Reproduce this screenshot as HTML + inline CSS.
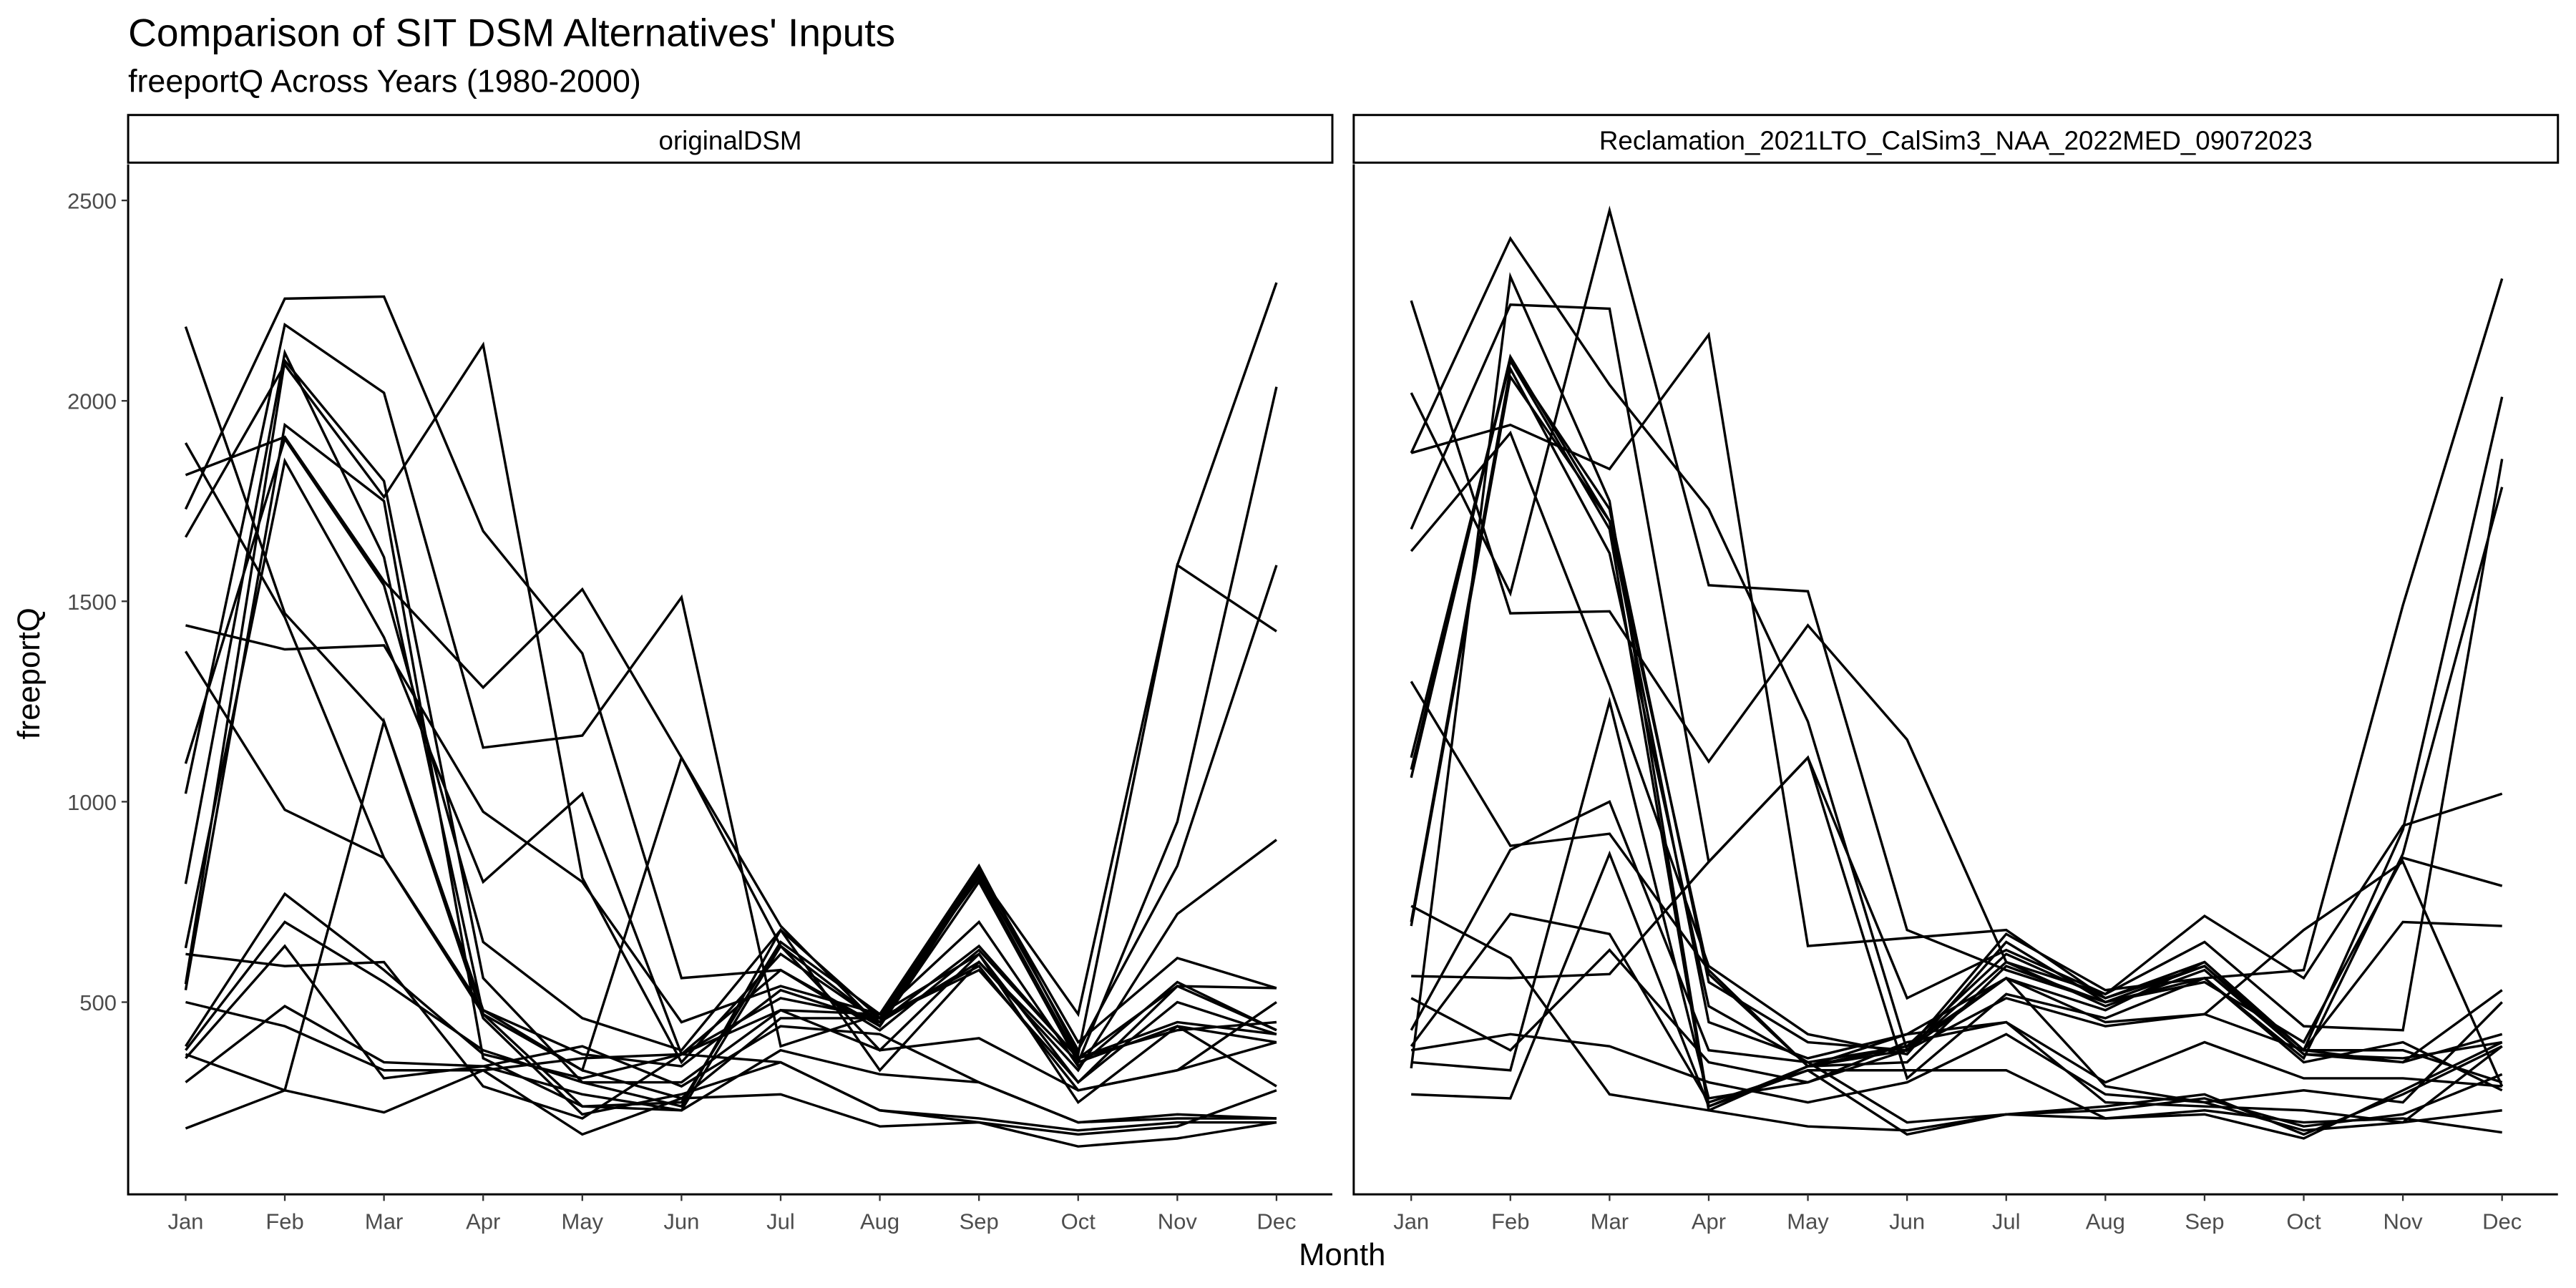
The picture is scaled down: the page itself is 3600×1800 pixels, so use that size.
<!DOCTYPE html>
<html><head><meta charset="utf-8"><style>
html,body{margin:0;padding:0;background:#fff;}
svg{display:block;font-family:"Liberation Sans",Arial,sans-serif;}
</style></head><body>
<svg id="chart" width="3600" height="1800" viewBox="0 0 1568 784" xmlns="http://www.w3.org/2000/svg">
<rect width="1568" height="784" fill="#fff"/>
<text x="78" y="28" font-size="24" fill="#000">Comparison of SIT DSM Alternatives' Inputs</text>
<text x="78" y="56" font-size="19.5" fill="#000">freeportQ Across Years (1980-2000)</text>
<text transform="translate(24,410) rotate(-90)" text-anchor="middle" font-size="19">freeportQ</text>
<text x="817" y="770" text-anchor="middle" font-size="19">Month</text>
<g id="plots"></g>
</svg>
<script>
const months=["Jan","Feb","Mar","Apr","May","Jun","Jul","Aug","Sep","Oct","Nov","Dec"];
const yTicks=[500,1000,1500,2000,2500];
const panelNames=["originalDSM","Reclamation_2021LTO_CalSim3_NAA_2022MED_09072023"];
const seriesOriginal=[
[2185,1470,1200,480,330,260,460,460,580,300,540,430],
[1895,1460,860,470,240,250,650,470,840,370,1590,2295],
[1815,1910,1550,1285,1530,1110,690,440,800,350,950,2035],
[1730,2255,2260,1675,1370,560,580,440,820,380,840,1590],
[1660,2090,1760,2140,810,350,620,450,600,330,720,905],
[1440,1380,1390,975,800,450,540,470,700,340,550,430],
[1375,980,860,480,370,340,530,450,640,360,540,535],
[1095,1905,1540,650,460,380,680,460,830,400,610,535],
[1020,2190,2020,1135,1165,1510,390,470,810,360,450,420],
[795,2120,1610,470,330,1110,640,380,620,300,500,420],
[635,1850,1410,800,1020,370,580,430,630,360,430,450],
[545,2100,1800,560,300,240,680,330,600,350,440,400],
[530,1940,1750,360,240,230,640,450,820,470,1590,1425],
[500,440,330,330,360,370,510,460,590,280,330,400],
[390,770,580,370,310,370,480,470,620,250,440,290],
[380,700,550,380,300,300,480,380,410,280,330,500],
[360,640,310,340,390,290,440,420,300,200,220,210],
[300,490,350,340,270,230,380,320,300,200,210,210],
[185,280,225,330,170,260,270,190,200,140,160,200],
[370,280,1200,460,220,270,350,230,210,180,200,200],
[620,590,600,290,210,370,350,230,200,170,190,280]];
const seriesReclamation=[
[2250,1470,1475,1100,1440,1155,600,520,650,440,430,1855],
[2020,1520,2475,1540,1525,680,580,500,560,580,1490,2305],
[1870,1940,1830,2165,640,660,680,510,590,380,930,2010],
[1870,2405,2040,1730,1200,380,670,530,560,360,870,1785],
[1680,2240,2230,850,1110,510,630,520,715,560,940,1020],
[1625,1920,1290,590,420,370,650,500,550,400,860,790],
[1300,890,920,580,340,390,620,510,600,380,700,690],
[1110,2100,1730,550,400,380,600,490,580,370,350,530],
[1060,2110,1700,570,340,350,590,500,590,370,360,400],
[740,610,270,230,340,380,560,450,470,380,380,300],
[700,2080,1620,490,350,390,560,480,600,380,350,420],
[565,560,570,850,1110,310,520,460,560,350,400,280],
[510,380,630,350,300,400,450,300,400,310,310,290],
[380,420,390,300,250,300,420,270,250,280,250,500],
[350,330,1250,260,300,380,510,440,470,680,850,290],
[335,2310,1750,240,340,420,450,250,240,230,200,230],
[270,260,870,240,330,330,330,210,230,200,210,175],
[390,720,670,250,330,170,220,210,220,160,280,400],
[690,2060,1700,450,360,420,560,290,250,180,200,390],
[430,880,1000,380,350,200,220,230,260,190,220,320],
[1080,2100,1680,230,190,180,220,240,270,170,270,390]];
const allSeries=[seriesOriginal,seriesReclamation];
const NS="http://www.w3.org/2000/svg";
const g=document.getElementById("plots");
function mk(t,a){const e=document.createElementNS(NS,t);for(const k in a)e.setAttribute(k,a[k]);return e;}
const yScale=v=>732-v*0.244;
const panelLeft=[78,824],panelW=733;
panelNames.forEach((name,p)=>{
  const L=panelLeft[p];
  const xScale=i=>L+35+i*(664/11);
  const strip=mk("rect",{x:L,y:70,width:panelW,height:29,fill:"#fff",stroke:"#000","stroke-width":1.3});
  
  
  g.appendChild(strip);
  const st=mk("text",{x:L+panelW/2,y:91,"text-anchor":"middle","font-size":16});
  st.textContent=name;
  
  
  g.appendChild(st);
  const ax=mk("path",{d:`M${L},100 V727 H${L+panelW}`,fill:"none",stroke:"#000","stroke-width":1.3});
  
  
  g.appendChild(ax);
  months.forEach((m,i)=>{
    const x=xScale(i);
    const tk=mk("line",{x1:x,x2:x,y1:727,y2:731,stroke:"#333","stroke-width":1});
    
    
    g.appendChild(tk);
    const t=mk("text",{x:x,y:748,"text-anchor":"middle","font-size":13.5,fill:"#4d4d4d"});
    t.textContent=m;
    
    
    g.appendChild(t);
  });
  if(p===0){
    yTicks.forEach(v=>{
      const y=yScale(v);
      const tk=mk("line",{x1:L-4,x2:L,y1:y,y2:y,stroke:"#333","stroke-width":1});
      
      
      g.appendChild(tk);
      const t=mk("text",{x:L-7,y:y+5,"text-anchor":"end","font-size":13.5,fill:"#4d4d4d"});
      t.textContent=v;
      
      
      g.appendChild(t);
    });
  }
  allSeries[p].forEach((s,k)=>{
    const d=s.map((v,i)=>(i?"L":"M")+xScale(i).toFixed(2)+","+yScale(v).toFixed(2)).join(" ");
    const pth=mk("path",{d:d,fill:"none",stroke:"#000","stroke-width":1.5});
    
    
    g.appendChild(pth);
  });
});
</script>
</body></html>
